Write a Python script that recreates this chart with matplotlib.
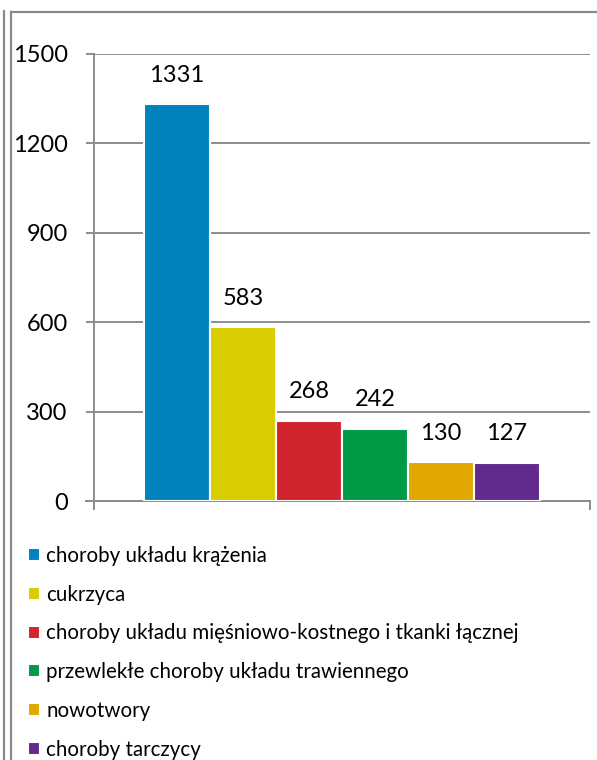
import matplotlib

matplotlib.use("Agg")

import matplotlib.pyplot as plt
from matplotlib.lines import Line2D

categories = [
    "choroby układu krążenia",
    "cukrzyca",
    "choroby układu mięśniowo-kostnego i tkanki łącznej",
    "przewlekłe choroby układu trawiennego",
    "nowotwory",
    "choroby tarczycy",
]
values = [1331, 583, 268, 242, 130, 127]
colors = ["#0082BF", "#D9CC00", "#D2242C", "#009A46", "#E1A800", "#632A8E"]
yticks = [0, 300, 600, 900, 1200, 1500]

plt.rcParams["font.family"] = ["Lato", "DejaVu Sans"]
GRID = "#8c8c8c"
FS = 17

W, H = 597, 760
fig = plt.figure(figsize=(W / 100, H / 100), dpi=100)
ax = fig.add_axes([94 / W, 1 - 501 / H, (590 - 94) / W, (501 - 54) / H])

x = list(range(len(values)))
bars = ax.bar(x, values, width=1.0, color=colors, edgecolor="white", linewidth=1.5, zorder=3)

for xi, v in zip(x, values):
    ax.annotate(str(v), (xi, v), xytext=(0, 21), textcoords="offset points",
                ha="center", va="center", fontsize=FS, color="black")

ax.set_xlim(-0.5 - 0.758, len(values) - 0.5 + 0.758)
ax.set_ylim(0, 1500)
ax.set_yticks(yticks)
ax.set_xticks([])
ax.yaxis.grid(True, color=GRID, linewidth=1.4, zorder=0)
ax.tick_params(axis="y", length=6, width=1.4, color=GRID, labelsize=FS, pad=13)
for side in ["top", "right"]:
    ax.spines[side].set_visible(False)
for side in ["left", "bottom"]:
    ax.spines[side].set_color(GRID)
    ax.spines[side].set_linewidth(1.4)
ax.set_axisbelow(True)

# small end ticks below the category axis
tx = fig.transFigure
fig.add_artist(Line2D([94 / W, 94 / W], [1 - 501 / H, 1 - 509 / H], transform=tx, color=GRID, lw=1.4))
fig.add_artist(Line2D([590 / W, 590 / W], [1 - 501 / H, 1 - 509 / H], transform=tx, color=GRID, lw=1.4))
fig.add_artist(Line2D([86 / W, 94 / W], [1 - 501 / H, 1 - 501 / H], transform=tx, color=GRID, lw=1.4))

# page frame
fig.add_artist(Line2D([3.5 / W, 3.5 / W], [0, 1 - 11 / H], transform=tx, color="#8a8a8a", lw=1.6))
fig.add_artist(Line2D([11 / W, 11 / W], [0, 1 - 12 / H], transform=tx, color="#8a8a8a", lw=1.6))
fig.add_artist(Line2D([11 / W, 1], [1 - 12 / H, 1 - 12 / H], transform=tx, color="#8a8a8a", lw=1.6))

fig.legend(bars, categories, loc="upper left", bbox_to_anchor=(28 / W, 1 - 546 / H),
           frameon=False, fontsize=14.8, handlelength=0.58, handleheight=0.58,
           handletextpad=0.3, labelspacing=0.91, borderaxespad=0, borderpad=0)

fig.savefig("out.png", dpi=100)
